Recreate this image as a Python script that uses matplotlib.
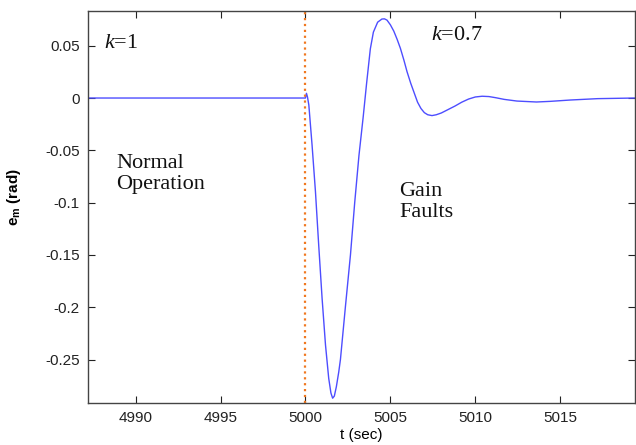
import matplotlib
matplotlib.use("Agg")
import matplotlib.pyplot as plt

plt.rcParams['mathtext.fontset'] = 'custom'
plt.rcParams['mathtext.it'] = 'Liberation Serif:italic'
plt.rcParams['mathtext.rm'] = 'Liberation Sans'
plt.rcParams['mathtext.bf'] = 'Liberation Sans:bold'

t = [4987.2, 5000.0, 5000.06, 5000.12, 5000.2, 5000.39, 5000.59, 5000.78, 5000.98,
     5001.18, 5001.37, 5001.5, 5001.6, 5001.7, 5001.82, 5001.96, 5002.06, 5002.35,
     5002.65, 5002.9, 5003.15, 5003.4, 5003.6, 5003.82, 5004.0, 5004.25, 5004.5,
     5004.65, 5004.8, 5005.0, 5005.2, 5005.4, 5005.59, 5005.8, 5005.98, 5006.2,
     5006.4, 5006.6, 5006.8, 5007.0, 5007.2, 5007.45, 5007.7, 5008.0, 5008.4,
     5008.8, 5009.2, 5009.6, 5010.0, 5010.4, 5010.8, 5011.2, 5011.7, 5012.45,
     5013.6, 5014.4, 5015.6, 5017.2, 5019.4]
em = [0.0, 0.0, 0.0045, 0.001, -0.0067, -0.045, -0.0896, -0.1405, -0.1915,
      -0.236, -0.268, -0.282, -0.287, -0.285, -0.276, -0.262, -0.25, -0.20,
      -0.15, -0.10, -0.055, -0.018, 0.014, 0.047, 0.063, 0.0725, 0.0755,
      0.0757, 0.0745, 0.070, 0.064, 0.056, 0.0475, 0.036, 0.0252, 0.014,
      0.005, -0.004, -0.010, -0.014, -0.016, -0.0168, -0.016, -0.0143, -0.011,
      -0.0077, -0.004, -0.001, 0.001, 0.0017, 0.0014, 0.0003, -0.0013, -0.0029,
      -0.0038, -0.0032, -0.0019, -0.0006, 0.0]

fault_time = 5000
xticks = [4990, 4995, 5000, 5005, 5010, 5015]
yticks = [0.05, 0, -0.05, -0.1, -0.15, -0.2, -0.25]
ytick_labels = ['0.05', '0', '-0.05', '-0.1', '-0.15', '-0.2', '-0.25']

fig = plt.figure(figsize=(6.36, 4.45), dpi=100)
ax = fig.add_axes([88/636, 1-402.7/445, (635-88)/636, (402.7-11)/445])

ax.plot(t, em, color='#4d4dff', lw=1.0)
ax.axvline(fault_time, color='#f07820', ls=':', lw=1.6)

ax.set_xlim(4987.2, 5019.4)
ax.set_ylim(-0.2913, 0.0832)
ax.set_xticks(xticks)
ax.set_xticklabels([str(v) for v in xticks])
ax.set_yticks(yticks)
ax.set_yticklabels(ytick_labels)

ax.tick_params(direction='in', length=5, width=0.8, top=True, right=True,
               labelsize=11, colors='#222222', pad=6)
for lab in ax.get_xticklabels() + ax.get_yticklabels():
    lab.set_family('Liberation Sans')
for s in ax.spines.values():
    s.set_color('#444444')
    s.set_linewidth(1.0)

ax.set_xlabel('t (sec)', fontsize=11, family='Liberation Sans', labelpad=2)
ax.set_ylabel(r'e$_\mathbf{m}$ (rad)', fontsize=11, family='Liberation Sans',
              fontweight='bold')
ax.yaxis.set_label_coords(-0.118, 0.525)

serif = dict(family='Liberation Serif', fontsize=16, color='#111111')
texts = [
    (104, 44, r'$k$=1'),
    (431, 35, r'$k$=0.7'),
    (116, 174, 'Normal\nOperation'),
    (399, 202, 'Gain\nFaults'),
]
for x, y, s in texts:
    fig.text(x / 636, 1 - y / 445, s, va='center', ha='left',
             linespacing=1.1, **serif)

fig.savefig('out.png', dpi=100)
